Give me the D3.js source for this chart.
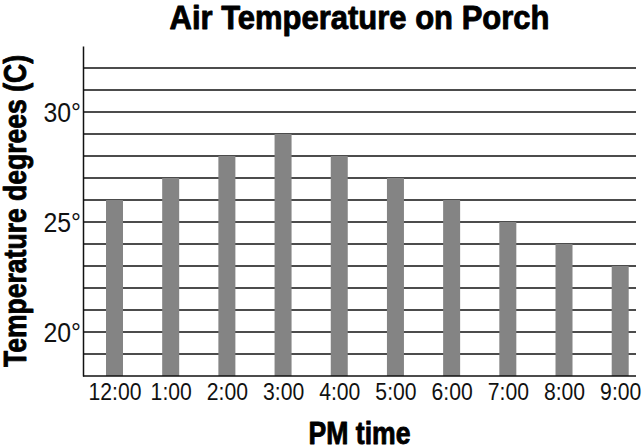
<!DOCTYPE html>
<html>
<head>
<meta charset="utf-8">
<script src="https://cdn.jsdelivr.net/npm/d3@7"></script>
<style>
  html, body { margin: 0; padding: 0; background: #fff; }
  svg { display: block; }
</style>
</head>
<body>
<script>
const categories = ["12:00", "1:00", "2:00", "3:00", "4:00", "5:00", "6:00", "7:00", "8:00", "9:00"];
const temperatures = [26, 27, 28, 29, 28, 27, 26, 25, 24, 23];
const yTickValues = [20, 25, 30];
const gridValues = [19, 20, 21, 22, 23, 24, 25, 26, 27, 28, 29, 30, 31, 32];
const yDomain = [18, 33];
const titleText = "Air Temperature on Porch";
const xTitleText = "PM time";
const yTitleText = "Temperature degrees (C)";

const W = 642, H = 448;
const plot = { left: 83, right: 636, top: 46, bottom: 376 };

const svg = d3.select("body").append("svg").attr("width", W).attr("height", H);

const y = d3.scaleLinear().domain(yDomain).range([plot.bottom, plot.top]);
const x = d3.scalePoint().domain(categories).range([114.5, 620.2]);
const barW = 17;

function squeeze(sel, factor) {
  sel.each(function () {
    const n = this.getComputedTextLength();
    d3.select(this).attr("textLength", n * factor).attr("lengthAdjust", "spacingAndGlyphs");
  });
}
function fitTo(sel, width) {
  sel.attr("textLength", width).attr("lengthAdjust", "spacingAndGlyphs");
}

// gridlines
svg.append("g").selectAll("line").data(gridValues).join("line")
  .attr("x1", plot.left).attr("x2", plot.right)
  .attr("y1", d => y(d)).attr("y2", d => y(d))
  .attr("stroke", "#111").attr("stroke-width", 1.4);

// bars
svg.append("g").selectAll("rect").data(temperatures).join("rect")
  .attr("x", (d, i) => x(categories[i]) - barW / 2)
  .attr("y", d => y(d))
  .attr("width", barW)
  .attr("height", d => y(yDomain[0]) - y(d))
  .attr("fill", "#848484");

// axes (no tick marks)
const yAxis = d3.axisLeft(y).tickValues(yTickValues).tickSize(0).tickPadding(2).tickFormat(d => d + "°");
const gy = svg.append("g").attr("transform", `translate(${plot.left},0)`).call(yAxis);
gy.select(".domain").attr("stroke", "#111").attr("stroke-width", 1.5);
gy.selectAll(".tick text")
  .attr("font-family", "'Liberation Sans', Arial, sans-serif")
  .attr("font-size", 27).attr("fill", "#111").attr("dy", "0.36em");
squeeze(gy.selectAll(".tick text"), 0.92);

const xAxis = d3.axisBottom(x).tickSize(0).tickPadding(8);
const gx = svg.append("g").attr("transform", `translate(0,${plot.bottom})`).call(xAxis);
gx.select(".domain").attr("d", `M${plot.left},0H${plot.right}`).attr("stroke", "#111").attr("stroke-width", 1.5);
gx.selectAll(".tick text")
  .attr("font-family", "'Liberation Sans', Arial, sans-serif")
  .attr("font-size", 23).attr("fill", "#111").attr("dy", "0.71em");
squeeze(gx.selectAll(".tick text"), 0.92);

// titles (heavy condensed look)
const boldFont = "'Liberation Sans Narrow', 'Liberation Sans', Arial, sans-serif";
function heavy(sel) {
  sel.attr("font-family", boldFont).attr("font-weight", "bold")
    .attr("fill", "#000").attr("stroke", "#000").attr("stroke-width", 0.9)
    .attr("stroke-linejoin", "round");
}
const t = svg.append("text").text(titleText)
  .attr("x", (plot.left + plot.right) / 2).attr("y", 28.5)
  .attr("text-anchor", "middle")
  .attr("font-size", 33.5).call(heavy);
fitTo(t, 380);

const xt = svg.append("text").text(xTitleText)
  .attr("x", (plot.left + plot.right) / 2).attr("y", 443.5)
  .attr("text-anchor", "middle")
  .attr("font-size", 32).call(heavy);
fitTo(xt, 102);

const yt = svg.append("text").text(yTitleText)
  .attr("transform", `translate(26,${(plot.top + plot.bottom) / 2}) rotate(-90)`)
  .attr("text-anchor", "middle")
  .attr("font-size", 31).call(heavy);
fitTo(yt, 312);
</script>
</body>
</html>
